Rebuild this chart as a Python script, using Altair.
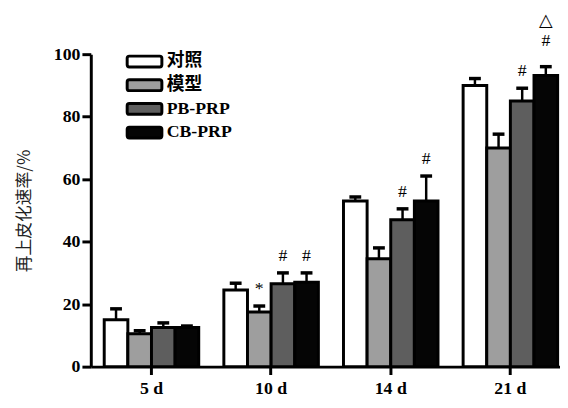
import altair as alt
import pandas as pd

groups = ["5 d", "10 d", "14 d", "21 d"]
series = ["对照", "模型", "PB-PRP", "CB-PRP"]
colors = ["#ffffff", "#9e9e9e", "#5e5e5e", "#050505"]

means = {
    "对照": [15.0, 24.5, 53.0, 90.0],
    "模型": [10.5, 17.5, 34.5, 70.0],
    "PB-PRP": [12.5, 26.5, 47.0, 85.0],
    "CB-PRP": [12.5, 27.0, 53.0, 93.2],
}
errors = {
    "对照": [3.5, 2.2, 1.3, 2.2],
    "模型": [1.0, 1.9, 3.5, 4.4],
    "PB-PRP": [1.5, 3.5, 3.5, 4.1],
    "CB-PRP": [0.5, 3.0, 8.0, 2.8],
}

# significance marks: (group, series, symbol)
marks_first = [
    ("10 d", "模型", "*"),
    ("10 d", "PB-PRP", "#"),
    ("10 d", "CB-PRP", "#"),
    ("14 d", "PB-PRP", "#"),
    ("14 d", "CB-PRP", "#"),
    ("21 d", "PB-PRP", "#"),
]
marks_high = [("21 d", "CB-PRP", "#")]
marks_top = [("21 d", "CB-PRP", "△")]

rows = []
for s in series:
    for g, m, e in zip(groups, means[s], errors[s]):
        rows.append({"group": g, "series": s, "mean": m, "upper": m + e})
df = pd.DataFrame(rows)

upper_lookup = {(r["group"], r["series"]): r["upper"] for r in rows}


def ann_frame(items):
    return pd.DataFrame([
        {"group": g, "series": s, "label": t, "upper": upper_lookup[(g, s)]}
        for g, s, t in items
    ])


ann1 = ann_frame(marks_first)
ann2 = ann_frame(marks_high)
ann3 = ann_frame(marks_top)

serif = "Liberation Serif, Times New Roman, Noto Sans CJK SC"

x_enc = alt.X(
    "group:N",
    sort=groups,
    scale=alt.Scale(paddingInner=0.21, paddingOuter=0.066, align=0.85),
    axis=alt.Axis(
        title=None, labelAngle=0, tickSize=8, labelPadding=5,
        labelFontSize=18,
    ),
)
xo_enc = alt.XOffset("series:N", sort=series,
                     scale=alt.Scale(paddingInner=0, paddingOuter=0))

legend_symbol = ("M-1.4,-0.5H1.4Q1.6,-0.5 1.6,-0.3V0.3Q1.6,0.5 1.4,0.5"
                 "H-1.4Q-1.6,0.5 -1.6,0.3V-0.3Q-1.6,-0.5 -1.4,-0.5Z")

bars = alt.Chart(df).mark_bar(stroke="black", strokeWidth=3).encode(
    x=x_enc,
    xOffset=xo_enc,
    y=alt.Y(
        "mean:Q",
        scale=alt.Scale(domain=[0, 100], nice=False),
        axis=alt.Axis(
            values=[0, 20, 40, 60, 80, 100],
            title="再上皮化速率/%",
            titleFont="Noto Sans CJK SC",
            titleFontSize=17,
            titleFontWeight="normal",
            titleColor="#222222",
            titlePadding=20,
            tickSize=9,
            labelPadding=2,
            labelFontSize=18,
        ),
    ),
    fill=alt.Fill(
        "series:N",
        sort=series,
        scale=alt.Scale(domain=series, range=colors),
        legend=alt.Legend(
            title=None,
            orient="none",
            legendX=42,
            legendY=-5,
            padding=0,
            symbolType=legend_symbol,
            symbolSize=484,
            symbolStrokeColor="black",
            symbolStrokeWidth=3,
            symbolOpacity=1,
            labelFont=serif,
            labelFontSize=18,
            labelFontWeight="bold",
            labelColor="black",
            labelOffset=10,
            rowPadding=0,
        ),
    ),
)

rules = alt.Chart(df).mark_rule(color="black", strokeWidth=2.5).encode(
    x=x_enc, xOffset=xo_enc, y="mean:Q", y2="upper:Q"
)
caps = alt.Chart(df).mark_tick(color="black", thickness=3.5, size=12,
                               orient="horizontal", opacity=1).encode(
    x=x_enc, xOffset=xo_enc, y="upper:Q"
)
text1 = alt.Chart(ann1).mark_text(
    dy=-17, font=serif, fontSize=18, color="black", baseline="middle"
).encode(x=x_enc, xOffset=xo_enc, y="upper:Q", text="label:N")
text2 = alt.Chart(ann2).mark_text(
    dy=-26, font=serif, fontSize=18, color="black", baseline="middle"
).encode(x=x_enc, xOffset=xo_enc, y="upper:Q", text="label:N")
text3 = alt.Chart(ann3).mark_text(
    dy=-46, font="DejaVu Sans", fontSize=18, color="black", baseline="middle"
).encode(x=x_enc, xOffset=xo_enc, y="upper:Q", text="label:N")

chart = alt.layer(bars, rules, caps, text1, text2, text3).properties(
    width=476,
    height=317,
    autosize=alt.AutoSizeParams(type="none"),
    padding={"left": 84, "top": 44, "right": 0, "bottom": 31},
).configure_view(stroke=None).configure_axis(
    domainColor="black",
    domainWidth=3,
    tickColor="black",
    tickWidth=3,
    labelFont=serif,
    labelFontWeight="bold",
    labelColor="black",
    grid=False,
)

chart.save("out.html", embed_options={"renderer": "svg", "actions": False})
